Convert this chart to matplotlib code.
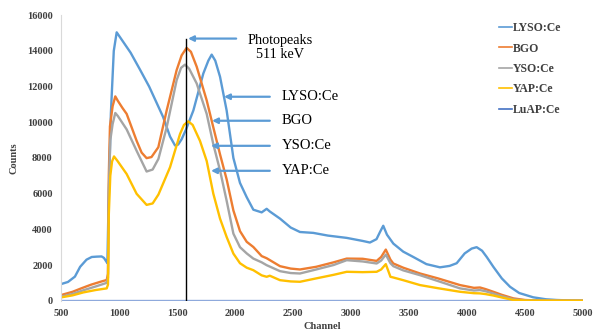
import matplotlib
matplotlib.use("Agg")
import matplotlib.pyplot as plt

# ---------------- data ----------------
lyso_ch = [500, 560, 620, 665, 720, 765, 810, 850, 870, 885, 900, 907, 930, 955, 980, 1000,
           1100, 1181, 1260, 1325, 1380, 1440, 1483, 1510, 1540, 1577, 1641, 1727, 1770, 1799, 1830, 1871,
           1928, 1986, 2043, 2101, 2158, 2230, 2273, 2300, 2388, 2480, 2560, 2675, 2800, 2963, 3100,
           3163, 3220, 3250, 3278, 3310, 3365, 3450, 3537, 3650, 3767, 3850, 3911, 3980, 4040, 4083,
           4130, 4170, 4227, 4300, 4371, 4450, 4571, 4680, 4773, 4900, 5000]
lyso_val = [930, 1050, 1350, 1900, 2300, 2450, 2470, 2480, 2400, 2250, 2100, 4500, 10500, 14000, 15040, 14850,
            13900, 12950, 12000, 11080, 10300, 9200, 8700, 8750, 9050, 9580, 10660, 12735, 13450, 13790, 13450, 12550,
            10660, 8000, 6600, 5800, 5100, 4950, 5150, 5000, 4600, 4100, 3850, 3800, 3650, 3520, 3350,
            3260, 3450, 3850, 4200, 3700, 3200, 2750, 2450, 2050, 1870, 1950, 2100, 2650, 2920, 3000,
            2800, 2450, 1900, 1250, 780, 430, 190, 80, 40, 10, 0]

bgo_ch = [500, 600, 678, 760, 850, 894, 905, 912, 922, 945, 968, 990, 1030, 1066, 1152, 1195, 1238, 1280, 1339,
          1411, 1497, 1540, 1583, 1620, 1670, 1756, 1813, 1871, 1928, 1986, 2043, 2101, 2158, 2230, 2273,
          2388, 2480, 2560, 2700, 2850, 2963, 3100, 3221, 3260, 3300, 3340, 3365, 3450, 3595, 3750, 3940,
          4060, 4112, 4160, 4227, 4300, 4400, 4500, 4600, 5000]
bgo_val = [315, 500, 700, 900, 1080, 1160, 1500, 7000, 9770, 10900, 11450, 11200, 10800, 10470, 8960, 8300, 7990, 8050, 8600,
           10660, 12925, 13750, 14170, 13950, 13110, 11225, 9715, 8200, 6800, 5060, 3900, 3300, 3010, 2500, 2380,
           1935, 1800, 1750, 1900, 2150, 2360, 2350, 2230, 2450, 2865, 2300, 2085, 1850, 1525, 1250, 875,
           720, 740, 650, 500, 330, 130, 40, 10, 0]

yso_ch = [500, 600, 700, 800, 894, 905, 912, 925, 945, 968, 990, 1066, 1152, 1238, 1290, 1340, 1411, 1497, 1535,
          1569, 1605, 1670, 1756, 1813, 1871, 1928, 1986, 2043, 2101, 2158, 2230, 2273, 2388, 2480, 2560, 2700, 2850,
          2963, 3100, 3221, 3260, 3300, 3340, 3365, 3450, 3595, 3750, 3940, 4060, 4112, 4160, 4227, 4300,
          4400, 4500, 5000]
yso_val = [220, 380, 600, 800, 1000, 1300, 6200, 9000, 9900, 10520, 10350, 9600, 8400, 7240, 7350, 7950, 9715, 12360, 13050,
           13230, 13000, 12170, 10470, 8770, 7300, 5600, 3760, 3000, 2650, 2360, 2150, 1990, 1655, 1550, 1525, 1750, 2000,
           2270, 2200, 2085, 2250, 2585, 2100, 1935, 1700, 1430, 1100, 690, 570, 595, 530, 400, 250,
           75, 20, 0]

yap_ch = [500, 600, 693, 800, 894, 905, 912, 925, 940, 957, 985, 1066, 1152, 1238, 1290, 1340, 1440, 1526, 1560, 1597,
          1635, 1698, 1756, 1813, 1871, 1928, 1986, 2043, 2101, 2158, 2230, 2273, 2300, 2388, 2480, 2560,
          2700, 2850, 2963, 3100, 3221, 3260, 3300, 3340, 3365, 3450, 3595, 3750, 3940, 4060, 4112, 4160,
          4227, 4300, 4400, 4500, 5000]
yap_val = [185, 300, 465, 600, 690, 900, 4800, 7000, 7800, 8085, 7850, 7100, 5990, 5370, 5450, 5950, 7480, 9340, 9850, 10050,
           9850, 8960, 7830, 6000, 4600, 3570, 2640, 2100, 1850, 1710, 1420, 1340, 1400, 1150, 1080, 1060,
           1250, 1450, 1620, 1600, 1620, 1750, 2050, 1340, 1300, 1150, 875, 700, 500, 420, 410, 370,
           290, 180, 40, 10, 0]

luap_ch = [500, 5000]
luap_val = [0, 0]

series_names = ["LYSO:Ce", "BGO", "YSO:Ce", "YAP:Ce", "LuAP:Ce"]
x_ticks = [500, 1000, 1500, 2000, 2500, 3000, 3500, 4000, 4500, 5000]
y_ticks = [0, 2000, 4000, 6000, 8000, 10000, 12000, 14000, 16000]

photopeak_channel = 1580
photopeak_top = 14690
photopeak_label = "Photopeaks\n511 keV"
label_arrows = [  # (text, y value, arrow tip channel)
    ("LYSO:Ce", 11430, 1905),
    ("BGO", 10085, 1802),
    ("YSO:Ce", 8680, 1793),
    ("YAP:Ce", 7280, 1793),
]

# ---------------- figure ----------------
serif = ["Liberation Serif", "DejaVu Serif"]
fig = plt.figure(figsize=(5.94, 3.36), dpi=100)
ax = fig.add_axes([61 / 594, 35.3 / 336, 522 / 594, 285.5 / 336])

colors = ["#5B9BD5", "#ED7D31", "#A5A5A5", "#FFC000", "#4472C4"]
xs = [lyso_ch, bgo_ch, yso_ch, yap_ch, luap_ch]
ys = [lyso_val, bgo_val, yso_val, yap_val, luap_val]
lines = []
for name, c, x, y in zip(series_names, colors, xs, ys):
    ln, = ax.plot(x, y, color=c, lw=1.7, label=name, solid_joinstyle="round")
    lines.append(ln)
lines[4].set_zorder(1.5)
lines[4].set_color("#8FAADC")

ax.set_xlim(500, 5000)
ax.set_ylim(0, 16000)
ax.set_xticks(x_ticks)
ax.set_yticks(y_ticks)
ax.tick_params(length=0, pad=6)
for lab in ax.get_xticklabels() + ax.get_yticklabels():
    lab.set_fontfamily(serif)
    lab.set_fontweight("bold")
    lab.set_fontsize(7.5)
    lab.set_color("#404040")

for s in ["top", "right", "bottom"]:
    ax.spines[s].set_visible(False)
ax.spines["left"].set_color("#D9D9D9")
ax.spines["left"].set_linewidth(0.8)

ax.set_xlabel("Channel", fontfamily=serif, fontweight="bold", fontsize=7.5, color="#404040", labelpad=3)
ax.set_ylabel("Counts", fontfamily=serif, fontweight="bold", fontsize=7.5, color="#404040", labelpad=6)

# photopeak line and annotations
ax.plot([photopeak_channel, photopeak_channel], [0, photopeak_top], color="black", lw=1.0)
arrow_kw = dict(arrowstyle="-|>", color="#5B9BD5", lw=1.6, mutation_scale=8, shrinkA=0, shrinkB=0)
ax.annotate("", xy=(photopeak_channel + 15, photopeak_top), xytext=(2010, photopeak_top), arrowprops=arrow_kw)
ax.text(2390, 14190, photopeak_label, ha="center", va="center", multialignment="center",
        fontfamily=serif, fontsize=10.3, color="black", linespacing=1.1)

for txt, yv, tip in label_arrows:
    ax.annotate("", xy=(tip, yv), xytext=(2300, yv), arrowprops=arrow_kw)
    ax.text(2405, yv, txt, ha="left", va="center", fontfamily=serif, fontsize=10.5, color="black")

leg = fig.legend(handles=lines, labels=series_names, loc="upper left",
                 bbox_to_anchor=(499 / 594, 1 - 22 / 336), frameon=False,
                 prop=dict(family=serif, weight="bold", size=8.5),
                 handlelength=1.1, handletextpad=0.1, labelspacing=0.72, borderpad=0, borderaxespad=0)
for t in leg.get_texts():
    t.set_color("#404040")
for h, c in zip(leg.legend_handles, colors):
    h.set_color(c)
    h.set_linewidth(1.2)

fig.savefig("out.png", dpi=100)
